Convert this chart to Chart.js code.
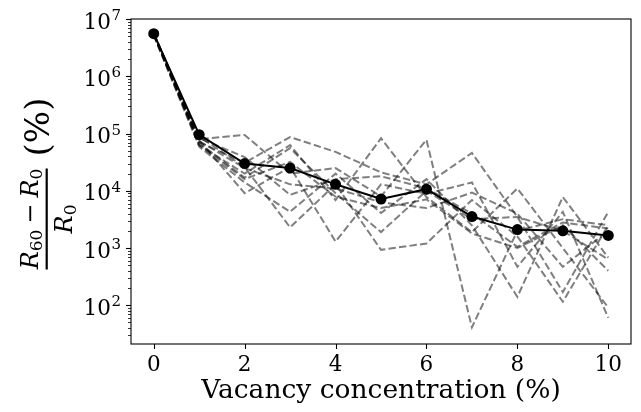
<!DOCTYPE html>
<html>
<head>
<meta charset="utf-8">
<script src="https://cdn.jsdelivr.net/npm/chart.js@4/dist/chart.umd.min.js"></script>
<style>
  html, body { margin: 0; padding: 0; background: #fff; }
  #chart { display: block; }
</style>
</head>
<body>
<canvas id="chart" width="641" height="412"></canvas>
<script>
// vacancy concentration (%)
const xValues = [0, 1, 2, 3, 4, 5, 6, 7, 8, 9, 10];

// averaged curve (black, with markers)
const meanValues = [5.6e6, 9.6e4, 3.0e4, 2.5e4, 1.3e4, 7.2e3, 1.07e4, 3.55e3, 2.1e3, 2.0e3, 1.66e3];

// individual runs (grey dashed)
const run1 = [5.5e6, 8.0e4, 9.5e4, 2.0e4, 2.5e4, 8.0e3, 7.8e4, 41, 2.0e3, 3.2e3, 2.5e3];
const run2 = [5.4e6, 7.1e4, 3.1e4, 8.7e4, 4.8e4, 2.1e4, 1.3e4, 4.6e4, 3.5e3, 170, 4.3e3];
const run3 = [5.6e6, 6.3e4, 2.0e4, 6.3e4, 6.9e3, 8.3e4, 7.8e3, 1.9e3, 1.1e4, 1.0e3, 91];
const run4 = [5.2e6, 5.9e4, 1.4e4, 4.3e3, 2.0e4, 4.1e3, 1.6e4, 2.5e3, 140, 7.8e3, 680];
const run5 = [5.5e6, 8.9e4, 2.6e4, 2.3e3, 1.3e4, 930, 1.2e3, 6.9e3, 1.6e3, 115, 2.5e3];
const run6 = [5.8e6, 7.6e4, 9.1e3, 2.6e4, 1.3e3, 1.3e4, 8.9e3, 1.4e4, 470, 4.3e3, 60];
const run7 = [5.4e6, 6.8e4, 1.7e4, 5.6e4, 9.1e3, 1.9e3, 1.0e4, 3.2e3, 3.5e3, 2.0e3, 630];
const run8 = [5.5e6, 8.3e4, 3.9e4, 8.5e3, 1.6e4, 1.8e4, 1.1e4, 4.0e3, 1.05e3, 2.8e3, 2.2e3];
const run9 = [5.6e6, 7.4e4, 2.5e4, 1.3e4, 1.1e4, 6.3e3, 5.0e3, 9.3e3, 4.0e3, 470, 2.0e3];
const run10 = [5.4e6, 6.3e4, 1.6e4, 3.2e4, 7.9e3, 5.0e3, 7.1e3, 1.8e3, 1.0e3, 2.5e3, 400];
const runs = [run1, run2, run3, run4, run5, run6, run7, run8, run9, run10];

// axis ticks
const xTickValues = [0, 2, 4, 6, 8, 10];
const yMajorExponents = [2, 3, 4, 5, 6, 7];
const xLabel = "Vacancy concentration (%)";

const SERIF = '"DejaVu Serif", "Liberation Serif", serif';

const toPoints = (arr) => xValues.map((x, i) => ({ x: x, y: arr[i] }));

const datasets = [
  {
    label: "mean",
    data: toPoints(meanValues),
    borderColor: "#000",
    backgroundColor: "#000",
    borderWidth: 2,
    pointRadius: 5.5,
    pointBackgroundColor: "#000",
    pointBorderWidth: 0,
    order: 0,
  },
];
runs.forEach((r, i) => {
  datasets.push({
    label: "run " + (i + 1),
    data: toPoints(r),
    borderColor: "rgba(0,0,0,0.5)",
    borderWidth: 2,
    borderDash: [7.4, 3.2],
    pointRadius: 0,
    order: 1,
  });
});

// spines, tick marks, y tick labels and axis titles, drawn on the library's scales
const axesDecor = {
  id: "axesDecor",
  afterDraw(chart) {
    const ctx = chart.ctx;
    const area = chart.chartArea;
    const xs = chart.scales.x;
    const ys = chart.scales.y;
    ctx.save();
    ctx.strokeStyle = "#000";
    ctx.lineWidth = 1.1;

    // x tick marks
    xTickValues.forEach((v) => {
      const px = Math.round(xs.getPixelForValue(v)) + 0.5;
      ctx.beginPath();
      ctx.moveTo(px, area.bottom);
      ctx.lineTo(px, area.bottom + 5);
      ctx.stroke();
    });

    // y tick marks (major + minor)
    ys.ticks.forEach((t) => {
      const py = Math.round(ys.getPixelForValue(t.value)) + 0.5;
      const major = Math.abs(Math.log10(t.value) - Math.round(Math.log10(t.value))) < 1e-9;
      ctx.lineWidth = major ? 1.1 : 0.8;
      ctx.beginPath();
      ctx.moveTo(area.left, py);
      ctx.lineTo(area.left - (major ? 5 : 3), py);
      ctx.stroke();
    });

    // spines
    ctx.lineWidth = 1.1;
    ctx.strokeRect(area.left, area.top, area.right - area.left, area.bottom - area.top);

    // y tick labels 10^n
    ctx.fillStyle = "#000";
    ctx.textBaseline = "alphabetic";
    yMajorExponents.forEach((e) => {
      const py = ys.getPixelForValue(Math.pow(10, e));
      ctx.font = "15px " + SERIF;
      const ew = ctx.measureText(String(e)).width;
      const right = area.left - 10;
      ctx.textAlign = "left";
      ctx.fillText(String(e), right - ew, py + 1);
      ctx.font = "21.5px " + SERIF;
      ctx.textAlign = "right";
      ctx.fillText("10", right - ew - 0.5, py + 9.5);
    });

    // x title
    ctx.font = "26.5px " + SERIF;
    ctx.textAlign = "center";
    ctx.fillText(xLabel, (area.left + area.right) / 2, 398);

    // y title: fraction (R60 - R0)/R0 followed by (%)
    ctx.translate(40, 219);
    ctx.rotate(-Math.PI / 2);
    const big = 24, sub = 17;
    const fItal = "italic " + big + "px " + SERIF;
    const fUp = big + "px " + SERIF;
    const fSub = sub + "px " + SERIF;
    const drawRuns = (parts, baseline) => {
      let w = 0;
      parts.forEach((p) => { ctx.font = p.f; w += ctx.measureText(p.t).width + (p.gap || 0) * 2; });
      let u = -w / 2;
      ctx.textAlign = "left";
      parts.forEach((p) => {
        ctx.font = p.f;
        u += p.gap || 0;
        ctx.fillText(p.t, u, baseline + (p.dy || 0));
        u += ctx.measureText(p.t).width + (p.gap || 0);
      });
    };
    drawRuns([
      { t: "R", f: fItal },
      { t: "60", f: fSub, dy: 4 },
      { t: "\u2212", f: fUp, gap: 6 },
      { t: "R", f: fItal },
      { t: "0", f: fSub, dy: 4 },
    ], -2);
    ctx.fillRect(-50.5, 5.6, 101, 2.2);
    drawRuns([
      { t: "R", f: fItal },
      { t: "0", f: fSub, dy: 4 },
    ], 31.5);
    ctx.font = "34px " + SERIF;
    ctx.textAlign = "center";
    ctx.fillText("(%)", 92, 8.5);
    ctx.restore();
  },
};

new Chart(document.getElementById("chart"), {
  type: "line",
  data: { datasets: datasets },
  options: {
    responsive: false,
    animation: false,
    devicePixelRatio: 1,
    layout: { padding: { top: 19, right: 10, left: 0, bottom: 0 } },
    plugins: { legend: { display: false }, tooltip: { enabled: false } },
    elements: { line: { tension: 0 } },
    scales: {
      x: {
        type: "linear",
        min: -0.5,
        max: 10.5,
        afterBuildTicks: (scale) => { scale.ticks = xTickValues.map((v) => ({ value: v })); },
        afterFit: (scale) => { scale.height = 68; },
        grid: { display: false, drawTicks: true, tickLength: 5 },
        border: { display: false },
        ticks: {
          autoSkip: false,
          maxRotation: 0,
          padding: 4,
          color: "#000",
          font: { family: SERIF, size: 21.5 },
        },
      },
      y: {
        type: "logarithmic",
        min: 21,
        max: 1.01e7,
        afterBuildTicks: (scale) => {
          const t = [];
          for (let e = 1; e <= 7; e++) {
            for (let m = 1; m <= 9; m++) {
              const v = m * Math.pow(10, e);
              if (v >= scale.min && v <= scale.max) t.push({ value: v });
            }
          }
          scale.ticks = t;
        },
        afterFit: (scale) => { scale.width = 131; },
        grid: { display: false },
        border: { display: false },
        ticks: { display: false },
      },
    },
  },
  plugins: [axesDecor],
});
</script>
</body>
</html>
